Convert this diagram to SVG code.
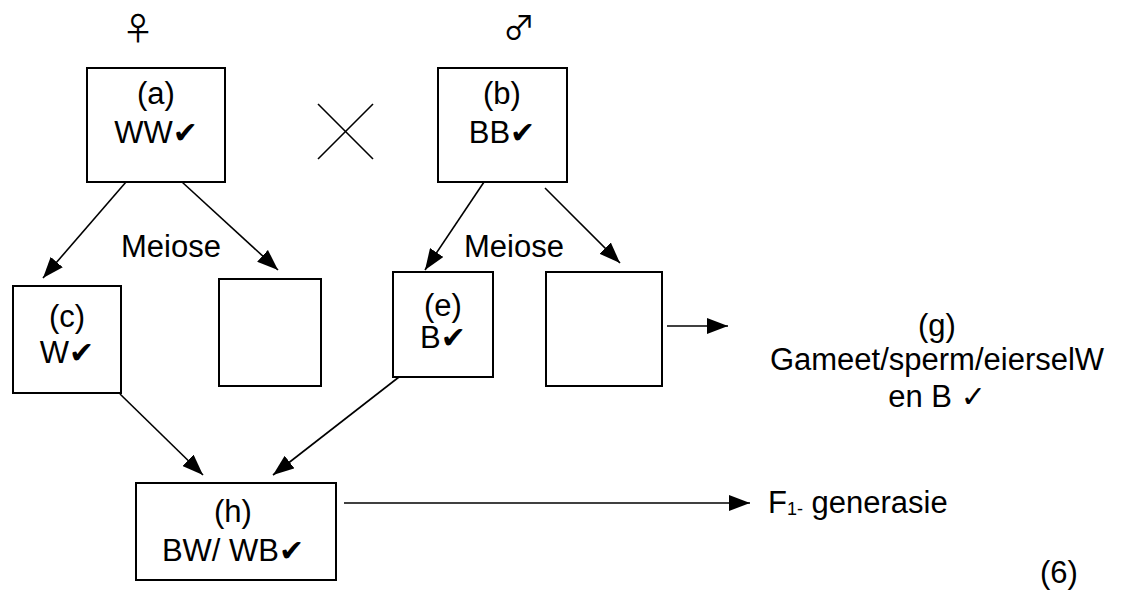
<svg xmlns="http://www.w3.org/2000/svg" width="1128" height="590" viewBox="0 0 1128 590">
<defs>
<style>
.box{fill:#fff;stroke:#000;stroke-width:2}
.ln{fill:none;stroke:#000;stroke-width:1.6}
.t{font-family:"Liberation Sans",Arial,"DejaVu Sans",sans-serif;font-size:31px;fill:#000;text-anchor:middle}
.ck{font-family:"DejaVu Sans",sans-serif;font-size:30px}
.sym{font-family:"Noto Sans CJK JP","DejaVu Sans",sans-serif;font-size:32px;fill:#000;text-anchor:middle}
</style>
<marker id="ah" markerUnits="userSpaceOnUse" markerWidth="22" markerHeight="16" viewBox="0 0 22 16" refX="21" refY="8" orient="auto">
<path d="M0,0 L21,8 L0,16 Z" fill="#000"/>
</marker>
</defs>
<rect width="1128" height="590" fill="#fff"/>
<text class="sym" x="138" y="40">♀</text>
<text class="sym" x="519" y="39">♂</text>
<g id="cross">
<line class="ln" x1="318" y1="104" x2="373" y2="159"/>
<line class="ln" x1="373" y1="104" x2="318" y2="159"/>
</g>
<g id="node-a">
<rect class="box" x="87" y="68" width="138" height="114"/>
<text class="t" x="156" y="104">(a)</text>
<text class="t" x="156" y="143">WW<tspan class="ck">✔</tspan></text>
</g>
<g id="node-b">
<rect class="box" x="438" y="68" width="129" height="114"/>
<text class="t" x="502" y="104">(b)</text>
<text class="t" x="502" y="143">BB<tspan class="ck">✔</tspan></text>
</g>
<g id="node-c">
<rect class="box" x="13" y="286" width="108" height="107"/>
<text class="t" x="67" y="327">(c)</text>
<text class="t" x="67" y="363">W<tspan class="ck">✔</tspan></text>
</g>
<g id="node-d">
<rect class="box" x="219" y="279" width="102" height="107"/>
</g>
<g id="node-e">
<rect class="box" x="393" y="272" width="100" height="105"/>
<text class="t" x="443" y="316">(e)</text>
<text class="t" x="443" y="348">B<tspan class="ck">✔</tspan></text>
</g>
<g id="node-f">
<rect class="box" x="546" y="272" width="116" height="114"/>
</g>
<g id="node-h">
<rect class="box" x="136" y="483" width="200" height="97"/>
<text class="t" x="233" y="522">(h)</text>
<text class="t" x="233" y="561">BW/ WB<tspan class="ck">✔</tspan></text>
</g>
<g id="label-g">
<text class="t" x="937" y="336">(g)</text>
<text class="t" x="937" y="370">Gameet/sperm/eierselW</text>
<text class="t" x="937" y="407">en B <tspan class="ck">✓</tspan></text>
</g>
<text class="t" x="171" y="257">Meiose</text>
<text class="t" x="514" y="257">Meiose</text>
<text class="t" x="768" y="513" style="text-anchor:start">F<tspan font-size="18" dy="2">1-</tspan><tspan dy="-2"> generasie</tspan></text>
<text class="t" x="1059" y="583">(6)</text>
<g id="connectors">
<line class="ln" x1="126" y1="182" x2="43" y2="278" marker-end="url(#ah)"/>
<line class="ln" x1="182" y1="182" x2="278" y2="270" marker-end="url(#ah)"/>
<line class="ln" x1="484" y1="182" x2="425" y2="270" marker-end="url(#ah)"/>
<line class="ln" x1="545" y1="188" x2="620" y2="263" marker-end="url(#ah)"/>
<line class="ln" x1="120" y1="394" x2="203" y2="475" marker-end="url(#ah)"/>
<line class="ln" x1="399" y1="377" x2="273" y2="475" marker-end="url(#ah)"/>
<line class="ln" x1="667" y1="326" x2="728" y2="326" marker-end="url(#ah)"/>
<line class="ln" x1="344" y1="503" x2="750" y2="503" marker-end="url(#ah)"/>
</g>
</svg>
